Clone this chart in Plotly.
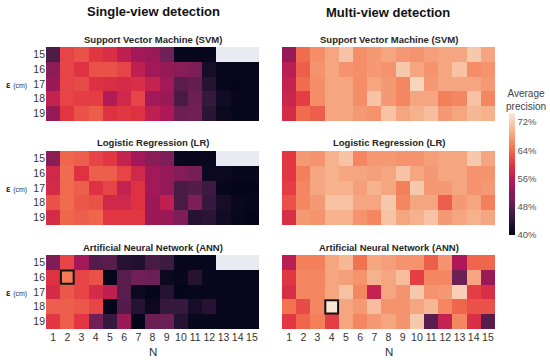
import plotly.graph_objects as go
import numpy as np

N = list(range(1, 16))
EPS = [15, 16, 17, 18, 19]
NaN = None

# Average precision (%) — single-view detection
svm_single = [
    [47, 61, 62, 60, 59, 56.5, 54, 53.5, 50, 40.5, 40.5, 40.5, NaN, NaN, NaN],
    [52, 61, 59.5, 62, 62, 61, 56.5, 54, 53, 52, 51, 42, 40.5, 40.3, 40.3],
    [53.5, 61, 61.5, 59.5, 59, 58.5, 59, 57, 54, 48, 49, 43.5, 40.5, 40.2, 40.3],
    [57, 61, 60.5, 60.5, 55.5, 58, 61, 54, 53.5, 46.5, 49.5, 45, 41.5, 40.5, 40.3],
    [53, 60, 62, 62.8, 59.5, 60, 59.5, 56.5, 55, 49.5, 50, 44, 40.8, 40.3, 40.3],
]
lr_single = [
    [52, 63.5, 63, 61, 60, 57, 54, 52, 51, 40.5, 40.5, 40.5, NaN, NaN, NaN],
    [58, 64, 59.5, 63, 63, 61, 58, 54, 53, 51.5, 50.5, 40.8, 41, 40.5, 40.5],
    [58.5, 63.8, 63, 59.5, 61, 57, 59.5, 54, 53, 46.5, 47.5, 45.5, 40.5, 40.2, 40.2],
    [62, 64, 62.5, 62, 58, 58, 59.5, 53.5, 56.5, 46.5, 51, 45, 42, 40.7, 40.3],
    [58.5, 63.5, 63, 63.5, 60, 60, 60, 53.5, 53.5, 51, 43.5, 44, 41.5, 40.4, 40.2],
]
ann_single = [
    [51, 61, 54, 47.5, 48, 43.5, 43, 46.5, 45.5, 40.5, 40.3, 40.3, NaN, NaN, NaN],
    [59.5, 65, 61, 62, 40.2, 48, 50, 49.5, 40.8, 40.5, 43.5, 40.5, 40.3, 40.3, 40.3],
    [58.5, 62.5, 61, 58.5, 56.5, 48, 41, 40.2, 43.5, 40.2, 40.3, 40.3, 40.3, 40.3, 40.3],
    [63, 63, 62.5, 61, 40.2, 47.5, 43.5, 40.8, 45, 45, 42, 43.5, 40.5, 40.3, 40.3],
    [60, 63, 60, 50, 45, 53.5, 40.2, 49.5, 49.5, 43.5, 40.5, 40.4, 40.3, 40.3, 40.3],
]

# Average precision (%) — multi-view detection
svm_multi = [
    [53, 64, 66.5, 68.5, 71, 66.5, 67.5, 68.5, 67.5, 67, 68, 68.5, 68.5, 71.5, 68.5],
    [56, 63, 67, 68.5, 67, 66.5, 67.5, 67, 71.5, 68.5, 67, 68.5, 71, 66.5, 67],
    [57, 64, 66.5, 68.5, 68.5, 66.5, 68.5, 67.5, 66, 72.5, 67.5, 68.5, 68.5, 68.5, 67.5],
    [57.5, 60.5, 66.5, 68.5, 68.5, 66.5, 71, 67.5, 66, 68.5, 68.5, 65.5, 66, 71, 66],
    [58.5, 64, 63, 68.5, 68.5, 67.5, 67, 71, 68.5, 69.5, 70.5, 67.5, 68.5, 70, 69.5],
]
lr_multi = [
    [60, 67.5, 67, 69.5, 71, 66, 67.5, 67.5, 67, 67, 68, 68.5, 68.5, 71.5, 68.5],
    [60, 65.5, 68.5, 69.5, 68.5, 68.5, 68, 68.5, 71, 68.5, 67.5, 68.5, 68.5, 67, 67],
    [60.5, 66, 68.5, 69.5, 69.5, 68, 69.5, 68.5, 65.5, 71.5, 67.5, 67.5, 68.5, 67, 67.5],
    [62, 66, 67.5, 71, 71, 68.5, 68.5, 71.5, 66, 68.5, 68.5, 63, 67.5, 68.5, 65.5],
    [59, 67.5, 67, 69.5, 69.5, 67, 66, 71, 68.5, 69.5, 71, 67.5, 68.5, 69.5, 68.5],
]
ann_multi = [
    [56, 65.5, 65.5, 68.5, 70, 64.5, 68.5, 68, 67, 67, 63, 67, 55, 63.5, 63.5],
    [60, 66, 66, 68.5, 68, 67, 69.5, 68.5, 70.5, 60.5, 66, 66, 49.5, 68.5, 53.5],
    [59, 66, 66, 68.5, 71, 66, 57, 68.5, 67, 71.5, 67, 67.5, 72, 60.5, 59],
    [64.5, 61.5, 66, 74, 68.5, 67.5, 70.5, 67, 67, 68.5, 70, 66, 63.5, 62, 62],
    [60, 63.5, 65.5, 60.5, 68.5, 66, 67.5, 68.5, 67, 71.5, 48, 57, 66, 59, 48],
]

ZMIN, ZMAX = 40, 74.6
CB_TICKS = [40, 48, 56, 64, 72]

rocket = [
    [0.0, "#03051A"], [0.143, "#35193E"], [0.286, "#701F57"], [0.429, "#AD1759"],
    [0.571, "#E13342"], [0.714, "#F37651"], [0.857, "#F6B48F"], [1.0, "#FAEBDD"],
]

FONT = "Liberation Sans, Arial, Helvetica, sans-serif"
TXT = "#262626"
W, H = 550, 360

XL = (46, 259)
XR = (282, 495)
YROWS = [(47, 121), (151, 225), (255, 329)]

def px_x(a, b):
    return [a / W, b / W]

def px_y(t, b):
    return [1 - b / H, 1 - t / H]

panels = [
    (svm_single, XL, YROWS[0], "Support Vector Machine (SVM)"),
    (svm_multi, XR, YROWS[0], "Support Vector Machine (SVM)"),
    (lr_single, XL, YROWS[1], "Logistic Regression (LR)"),
    (lr_multi, XR, YROWS[1], "Logistic Regression (LR)"),
    (ann_single, XL, YROWS[2], "Artificial Neural Network (ANN)"),
    (ann_multi, XR, YROWS[2], "Artificial Neural Network (ANN)"),
]

fig = go.Figure()
annotations = []
shapes = []

for i, (z, xb, yb, title) in enumerate(panels):
    k = "" if i == 0 else str(i + 1)
    xa, ya = "x" + k, "y" + k
    fig.add_trace(go.Heatmap(
        z=z, x=N, y=EPS, xaxis=xa, yaxis=ya,
        colorscale=rocket, zmin=ZMIN, zmax=ZMAX,
        showscale=(i == 0),
        hovertemplate="N=%{x}<br>ε=%{y} cm<br>AP=%{z:.1f}%<extra></extra>",
        colorbar=dict(
            x=509 / W, xanchor="left", xpad=0,
            y=1 - 174 / H, yanchor="middle", ypad=0,
            len=122 / H, lenmode="fraction", thickness=6,
            outlinewidth=0, ticks="", tickvals=CB_TICKS,
            ticktext=[f"{v}%" for v in CB_TICKS],
            tickfont=dict(family=FONT, size=9.5, color="#555"),
        ),
    ))
    bottom = i >= 4
    left = xb == XL
    fig.update_layout({
        ("xaxis" + k): dict(domain=px_x(*xb), range=[0.5, 15.5], anchor=ya,
                            showgrid=False, zeroline=False, showline=False,
                            tickmode="array", tickvals=N, showticklabels=bottom,
                            ticks="", tickangle=0,
                            tickfont=dict(family=FONT, size=10.5, color="#333")),
        ("yaxis" + k): dict(domain=px_y(*yb), range=[19.5, 14.5], anchor=xa,
                            showgrid=False, zeroline=False, showline=False,
                            tickmode="array", tickvals=EPS, showticklabels=left,
                            ticks="", ticklen=0,
                            tickfont=dict(family=FONT, size=10.5, color="#333")),
    })
    annotations.append(dict(
        text=f"<b>{title}</b>", x=(xb[0] + xb[1]) / 2 / W, y=1 - (yb[0] - 8) / H,
        xref="paper", yref="paper", showarrow=False, xanchor="center", yanchor="middle",
        font=dict(family=FONT, size=9.5, color=TXT)))
    if left:
        annotations.append(dict(
            text="<b>ε</b> <span style='font-size:7px;color:#333'>(cm)</span>",
            x=4 / W, y=1 - ((yb[0] + yb[1]) / 2) / H,
            xref="paper", yref="paper", showarrow=False, xanchor="left", yanchor="middle",
            font=dict(family=FONT, size=9.5, color=TXT)))
    if bottom:
        annotations.append(dict(
            text="N", x=(xb[0] + xb[1]) / 2 / W, y=1 - 352 / H,
            xref="paper", yref="paper", showarrow=False, xanchor="center", yanchor="middle",
            font=dict(family=FONT, size=11.5, color="#333")))
        arr = np.array(z, dtype=float)
        r, c = np.unravel_index(np.nanargmax(arr), arr.shape)
        shapes.append(dict(type="rect", xref=xa, yref=ya,
                           x0=N[c] - 0.45, x1=N[c] + 0.45,
                           y0=EPS[r] - 0.45, y1=EPS[r] + 0.45,
                           line=dict(color="#111", width=2)))

annotations += [
    dict(text="<b>Single-view detection</b>", x=153 / W, y=1 - 12 / H,
         xref="paper", yref="paper", showarrow=False, xanchor="center", yanchor="middle",
         font=dict(family=FONT, size=13, color="#111")),
    dict(text="<b>Multi-view detection</b>", x=388 / W, y=1 - 13 / H,
         xref="paper", yref="paper", showarrow=False, xanchor="center", yanchor="middle",
         font=dict(family=FONT, size=13, color="#111")),
    dict(text="Average<br>precision", x=526 / W, y=1 - 100 / H,
         xref="paper", yref="paper", showarrow=False, xanchor="center", yanchor="middle",
         font=dict(family=FONT, size=10, color="#444")),
]

fig.update_layout(
    width=W, height=H, margin=dict(l=0, r=0, t=0, b=0),
    paper_bgcolor="white", plot_bgcolor="#EAEAF2",
    annotations=annotations, shapes=shapes,
    font=dict(family=FONT, color=TXT),
)

fig.write_html("out.html", config={"displayModeBar": False},
               post_script="document.body.style.margin='0';document.body.style.overflow='hidden';")
